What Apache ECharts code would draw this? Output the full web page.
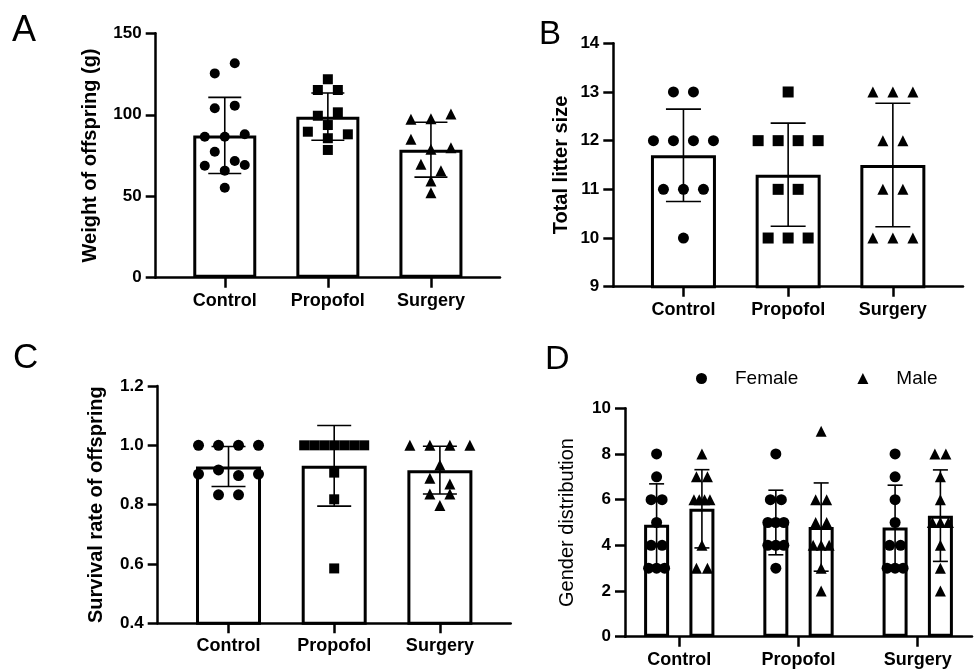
<!DOCTYPE html>
<html>
<head>
<meta charset="utf-8">
<script src="https://cdn.jsdelivr.net/npm/echarts@6/dist/echarts.min.js"></script>
<style>html,body{margin:0;padding:0;background:#fff}#c{width:974px;height:669px}</style>
</head>
<body>
<div id="c"></div>
<script>
// ---------------- data ----------------
const categories = ['Control', 'Propofol', 'Surgery'];

// A: weight of offspring (g)
const weightControl  = [125.4, 131.6, 104.0, 105.6, 86.5, 86.5, 88.0, 77.3, 71.6, 68.7, 65.7, 69.2, 55.2];
const weightPropofol = [121.8, 115.2, 115.2, 99.4, 101.5, 89.6, 93.7, 88.0, 85.6, 78.4];
const weightSurgery  = [97.2, 97.6, 100.5, 84.9, 78.8, 79.8, 69.6, 65.7, 59.3, 52.2];
const weightTicks = [0, 50, 100, 150];

// B: total litter size
const litterControl  = [13, 13, 12, 12, 12, 12, 11, 11, 11, 10];
const litterPropofol = [13, 12, 12, 12, 12, 11, 11, 10, 10, 10];
const litterSurgery  = [13, 13, 13, 12, 12, 11, 11, 10, 10, 10];
const litterTicks = [9, 10, 11, 12, 13, 14];

// C: survival rate of offspring
const survivalControl  = [1, 1, 1, 1, 0.903, 0.917, 0.898, 0.903, 0.833, 0.833];
const survivalPropofol = [1, 1, 1, 1, 1, 1, 1, 0.908, 0.818, 0.585];
const survivalSurgery  = [1, 1, 1, 1, 0.934, 0.889, 0.870, 0.836, 0.836, 0.797];
const survivalTicks = [0.4, 0.6, 0.8, 1.0, 1.2];

// D: gender distribution
const femaleControl  = [8, 7, 6, 6, 5, 4, 4, 3, 3, 3];
const maleControl    = [8, 7, 7, 6, 6, 6, 6, 4, 3, 3];
const femalePropofol = [8, 6, 6, 5, 5, 5, 4, 4, 4, 3];
const malePropofol   = [9, 6, 6, 5, 5, 4, 4, 4, 3, 2];
const femaleSurgery  = [8, 7, 6, 5, 4, 4, 3, 3, 3];
const maleSurgery    = [8, 8, 7, 6, 5, 5, 5, 4, 3, 2];
const genderTicks = [0, 2, 4, 6, 8, 10];
const sexNames = ['Female', 'Male'];

// ---------------- helpers ----------------
const FONT = "'Liberation Sans', Arial, Helvetica, sans-serif";
const mean = a => a.reduce((s, v) => s + v, 0) / a.length;
const sd = a => { const m = mean(a); return Math.sqrt(a.reduce((s, v) => s + (v - m) * (v - m), 0) / (a.length - 1)); };

const panels = [
  { letter: 'A', letterPos: [12, 13], letterSize: 36, grid: { left: 155.7, top: 33.3, width: 344.3, height: 244.4 }, xr: [0.33, 3.67],
    ticks: weightTicks, title: 'Weight of offspring (g)', titleWeight: 'bold', nameGap: 55, dec: 0,
    groups: [weightControl, weightPropofol, weightSurgery], symbols: ['circle', 'rect', 'triangle'], symSize: [10, 10, 11],
    barW: 63, capW: 33, rowH: 10.4, maxSp: 20, maxSpan: 60 },
  { letter: 'B', letterPos: [539, 18], letterSize: 33, grid: { left: 613.3, top: 43.3, width: 349.7, height: 243.4 }, xr: [0.33, 3.67],
    ticks: litterTicks, title: 'Total litter size', titleWeight: 'bold', nameGap: 42, dec: 0,
    groups: [litterControl, litterPropofol, litterSurgery], symbols: ['circle', 'rect', 'triangle'], symSize: [11, 11, 11],
    barW: 65, capW: 35, rowH: 10.4, maxSp: 20, maxSpan: 60 },
  { letter: 'C', letterPos: [13, 341], letterSize: 35, grid: { left: 157.7, top: 386, width: 353, height: 237.3 }, xr: [0.33, 3.67],
    ticks: survivalTicks, title: 'Survival rate of offspring', titleWeight: 'bold', nameGap: 51, dec: 1,
    groups: [survivalControl, survivalPropofol, survivalSurgery], symbols: ['circle', 'rect', 'triangle'], symSize: [11, 10, 11],
    barW: 65, capW: 34, rowH: 10.4, maxSp: 20, maxSpan: 60 },
  { letter: 'D', letterPos: [545, 343], letterSize: 34, grid: { left: 625, top: 408.3, width: 347, height: 228.4 }, xr: [0.545, 3.455],
    ticks: genderTicks, title: 'Gender distribution', titleWeight: 'normal', nameGap: 48, dec: 0,
    sub: [[femaleControl, femalePropofol, femaleSurgery], [maleControl, malePropofol, maleSurgery]],
    subShift: [-0.19, 0.19], symbols: ['circle', 'triangle'], symSize: [11, 11],
    barW: 25, capW: 15, rowH: 5, maxSp: 11, maxSpan: 16 }
];

const chart = echarts.init(document.getElementById('c'), null, { renderer: 'canvas' });

const axisLineStyle = { color: '#000', width: 2.5 };
const grids = [], xAxes = [], yAxes = [], titles = [], series = [];

function errRender(capW) {
  return function (params, api) {
    const x = api.value(0), m = api.value(1), s = api.value(2);
    const p1 = api.coord([x, m + s]), p2 = api.coord([x, m - s]);
    const st = { stroke: '#000', lineWidth: 1.6 };
    return { type: 'group', children: [
      { type: 'line', shape: { x1: p1[0], y1: p1[1], x2: p2[0], y2: p2[1] }, style: st },
      { type: 'line', shape: { x1: p1[0] - capW / 2, y1: p1[1], x2: p1[0] + capW / 2, y2: p1[1] }, style: st },
      { type: 'line', shape: { x1: p2[0] - capW / 2, y1: p2[1], x2: p2[0] + capW / 2, y2: p2[1] }, style: st }
    ]};
  };
}

const dotGroups = [];

panels.forEach((p, i) => {
  grids.push(Object.assign({ containLabel: false, outerBoundsMode: 'none' }, p.grid));
  const catPos = categories.map((c, k) => k + 1);
  xAxes.push({
    gridIndex: i, type: 'value', min: p.xr[0], max: p.xr[1],
    axisLine: { show: true, onZero: false, lineStyle: axisLineStyle },
    axisTick: { show: true, customValues: catPos, length: 10, lineStyle: axisLineStyle },
    axisLabel: { show: true, customValues: catPos, formatter: v => categories[Math.round(v) - 1] || '',
      fontSize: 18, fontWeight: 'bold', color: '#000', margin: 14, fontFamily: FONT },
    splitLine: { show: false }
  });
  const t = p.ticks;
  yAxes.push({
    gridIndex: i, type: 'value', min: t[0], max: t[t.length - 1], interval: +(t[1] - t[0]).toFixed(6),
    axisLine: { show: true, onZero: false, lineStyle: axisLineStyle },
    axisTick: { show: true, length: 10, lineStyle: axisLineStyle },
    axisLabel: { fontSize: 17, fontWeight: 'bold', color: '#000', margin: 14, fontFamily: FONT,
      formatter: v => (+v).toFixed(p.dec) },
    splitLine: { show: false },
    name: p.title, nameLocation: 'middle', nameGap: p.nameGap,
    nameTextStyle: { fontSize: 20, fontWeight: p.titleWeight, color: '#000', fontFamily: FONT }
  });
  titles.push({ text: p.letter, left: p.letterPos[0], top: p.letterPos[1], padding: 0,
    textStyle: { fontSize: p.letterSize, fontWeight: 'normal', color: '#000', fontFamily: FONT } });

  const barData = [], errData = [];
  if (p.groups) {
    p.groups.forEach((g, k) => {
      barData.push([k + 1, mean(g)]);
      errData.push([k + 1, mean(g), sd(g)]);
      dotGroups.push({ panel: i, pos: k + 1, values: g, symbol: p.symbols[k], size: p.symSize[k], name: 'dots' + i + '_' + k });
    });
  } else {
    p.sub.forEach((sexGroups, s) => {
      sexGroups.forEach((g, k) => {
        const x = k + 1 + p.subShift[s];
        barData.push([x, mean(g)]);
        errData.push([x, mean(g), sd(g)]);
        dotGroups.push({ panel: i, pos: x, values: g, symbol: p.symbols[s], size: p.symSize[s], name: sexNames[s] });
      });
    });
  }
  series.push({
    id: 'bar' + i, type: 'bar', xAxisIndex: i, yAxisIndex: i, barWidth: p.barW, clip: true, silent: true, z: 2,
    itemStyle: { color: '#fff', borderColor: '#000', borderWidth: 3 }, data: barData
  });
  series.push({
    id: 'err' + i, type: 'custom', xAxisIndex: i, yAxisIndex: i, z: 3, silent: true,
    renderItem: errRender(p.capW), data: errData, encode: { x: 0, y: 1 }
  });
});

const baseOption = {
  animation: false,
  backgroundColor: '#fff',
  title: titles,
  grid: grids, xAxis: xAxes, yAxis: yAxes,
  legend: {
    data: [{ name: sexNames[0], icon: 'circle' }, { name: sexNames[1], icon: 'triangle' }],
    left: 696, top: 369, padding: 0, itemWidth: 11, itemHeight: 11, itemGap: 59,
    selectedMode: false,
    textStyle: { fontSize: 19, color: '#000', fontFamily: FONT, padding: [0, 0, 0, 23] }
  },
  series: series
};
chart.setOption(baseOption);

// ---------- scatter layout (rows of nearly equal values spread horizontally) ----------
function swarm(values, cx, gi, p) {
  const toPx = (x, y) => chart.convertToPixel({ gridIndex: gi }, [x, y]);
  const unit = toPx(cx + 1, values[0])[0] - toPx(cx, values[0])[0];
  const order = values.map((v, i) => i).sort((a, b) => values[b] - values[a] || a - b);
  const rows = []; let cur = null, startY = 0;
  order.forEach(i => {
    const py = toPx(cx, values[i])[1];
    if (cur && py - startY < p.rowH) cur.push(i);
    else { cur = [i]; rows.push(cur); startY = py; }
  });
  const out = [];
  rows.forEach(r => {
    r.sort((a, b) => a - b);
    const n = r.length;
    const sp = n > 1 ? Math.min(p.maxSp, p.maxSpan / (n - 1)) : 0;
    r.forEach((i, k) => out.push([cx + (k - (n - 1) / 2) * sp / unit, values[i]]));
  });
  return out;
}

const scatterByName = {};
dotGroups.forEach(d => {
  const pts = swarm(d.values, d.pos, d.panel, panels[d.panel]);
  if (!scatterByName[d.name]) {
    scatterByName[d.name] = { id: 'sc_' + d.name, name: d.name, type: 'scatter', xAxisIndex: d.panel, yAxisIndex: d.panel,
      symbol: d.symbol, symbolSize: d.size, z: 4, silent: true, itemStyle: { color: '#000', opacity: 1 }, data: [] };
  }
  scatterByName[d.name].data.push(...pts);
});
chart.setOption({ series: series.concat(Object.values(scatterByName)) });
</script>
</body>
</html>
